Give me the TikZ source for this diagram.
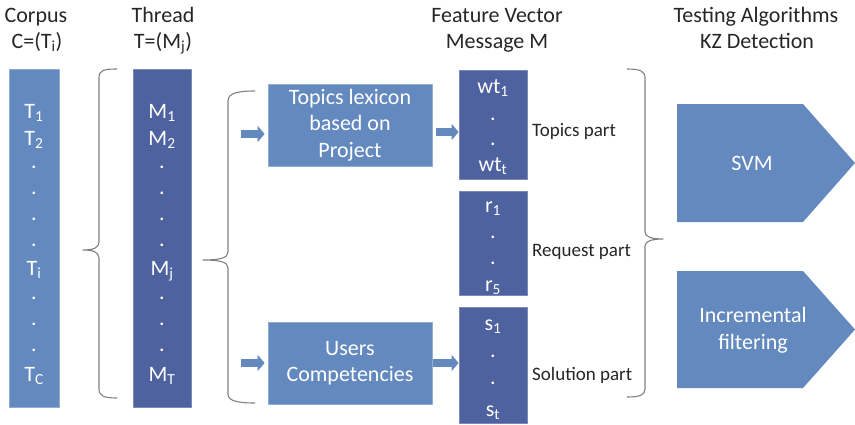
\documentclass[tikz,border=0pt]{standalone}
\usepackage{fontspec}
\setmainfont{Carlito}
\usetikzlibrary{arrows.meta}
\definecolor{boxlight}{RGB}{99,137,191}
\definecolor{boxdark}{RGB}{79,98,160}
\definecolor{bracegray}{RGB}{128,128,128}
\definecolor{inkgray}{RGB}{38,38,38}
\begin{document}
\begin{tikzpicture}[x=1pt, y=-1pt, line join=round,
	bigfont/.style={font=\fontsize{22}{26.5}\selectfont},
	lightbox/.style={fill=boxlight, draw=boxlight!70!white, line width=.8pt, inner sep=0pt},
	darkbox/.style={fill=boxdark, draw=boxdark!75!white, line width=.8pt, inner sep=0pt},
	entry/.style={bigfont, text=white, anchor=base, inner sep=0pt},
	head/.style={bigfont, text=inkgray, anchor=base, inner sep=0pt},
	partlabel/.style={font=\fontsize{19}{22}\selectfont, text=inkgray, anchor=west, inner sep=0pt},
	bracket/.style={draw=bracegray, line width=1.1pt},
	blockarrow/.style={draw=boxlight, line width=8pt, -{Triangle[length=7pt,width=16pt]}}]
	\useasboundingbox (0,0) rectangle (855,424);
	% column headings
	\node[head] (corpusH) at (36,22) {Corpus};
	\node[head] (corpusD) at (37,48) {C=(T\textsubscript{i})};
	\node[head] (threadH) at (163,22) {Thread};
	\node[head] (threadD) at (163,48) {T=(M\textsubscript{j})};
	\node[head] (vectorH) at (497,22) {Feature Vector};
	\node[head] (vectorD) at (497,48) {Message M};
	\node[head] (testH) at (756,22) {Testing Algorithms};
	\node[head] (testD) at (757,48) {KZ Detection};
	% corpus and thread bars
	\node[lightbox, minimum width=50pt, minimum height=338pt] (corpus) at (34,238) {};
	\node[darkbox, minimum width=58pt, minimum height=338pt] (thread) at (162,238) {};
	\foreach \txt/\yy [count=\k] in {T\textsubscript{1}/118, T\textsubscript{2}/145, ./168, ./194, ./220, ./246,
		T\textsubscript{i}/275, ./299, ./325, ./351, T\textsubscript{C}/381}
	\node[entry] (c\k) at (34,\yy) {\txt};
	\foreach \txt/\yy [count=\k] in {M\textsubscript{1}/118, M\textsubscript{2}/145, ./168, ./194, ./220, ./246,
		M\textsubscript{j}/275, ./299, ./325, ./351, M\textsubscript{T}/381}
	\node[entry] (m\k) at (162,\yy) {\txt};
	% lexicon boxes
	\node[lightbox, bigfont, text=white, align=center, minimum width=164pt, minimum height=82pt] (topics) at (350,125) {Topics lexicon\\based on\\Project};
	\node[lightbox, bigfont, text=white, align=center, minimum width=164pt, minimum height=82pt] (users) at (350,363) {Users\\Competencies};
	% feature vector parts
	\node[darkbox, minimum width=68pt, minimum height=109pt] (fvTopics) at (493,124.5) {};
	\node[darkbox, minimum width=68pt, minimum height=104pt] (fvRequest) at (493,243) {};
	\node[darkbox, minimum width=68pt, minimum height=116pt] (fvSolution) at (493,365) {};
	\foreach \txt/\yy [count=\k] in {wt\textsubscript{1}/93, ./120, ./145, wt\textsubscript{t}/171,
		r\textsubscript{1}/212, ./238, ./264, r\textsubscript{5}/291,
		s\textsubscript{1}/330, ./357, ./384, s\textsubscript{t}/416}
	\node[entry] (v\k) at (493,\yy) {\txt};
	\node[partlabel] (topicsPart) at (532,131) {Topics part};
	\node[partlabel] (requestPart) at (532,252) {Request part};
	\node[partlabel] (solutionPart) at (532,375) {Solution part};
	% braces
	\draw[bracket] (117,69) .. controls (104,69) and (99,70) .. (99,78) -- (99,242) .. controls (99,248) and (93,250) .. (83,250)
		.. controls (93,250) and (99,252) .. (99,258) -- (99,389) .. controls (99,396) and (104,398) .. (117,398);
	\draw[bracket] (255,91) .. controls (238,91) and (228,93) .. (228,101) -- (228,252) .. controls (228,258) and (220,260) .. (203,260)
		.. controls (220,260) and (228,262) .. (228,268) -- (228,394) .. controls (228,401) and (238,403) .. (255,403);
	\draw[bracket] (627,69) .. controls (640,69) and (645,71) .. (645,78) -- (645,232) .. controls (645,237) and (652,239) .. (663,239)
		.. controls (652,239) and (645,241) .. (645,246) -- (645,389) .. controls (645,395) and (640,397) .. (627,397);
	% arrows
	\coordinate (inTopics) at (241,134);
	\coordinate (inUsers) at (241,363);
	\draw[blockarrow, shorten >=3pt] (inTopics) -- (inTopics -| topics.west);
	\draw[blockarrow, shorten >=3pt] (inUsers) -- (inUsers -| users.west);
	\draw[blockarrow, shorten <=4pt] (topics.east |- 0,132) -- (fvTopics.west |- 0,132);
	\draw[blockarrow, shorten <=1pt] (users.east) -- (users.east -| fvSolution.west);
	% classifiers
	\fill[boxlight] (677,104) -- (803,104) -- (855,163) -- (803,222) -- (677,222) -- cycle;
	\node[bigfont, text=white] (svm) at (752,163) {SVM};
	\fill[boxlight] (677,271) -- (803,271) -- (855,329.5) -- (803,388) -- (677,388) -- cycle;
	\node[bigfont, text=white, align=center] (incr) at (753,330) {Incremental\\filtering};
\end{tikzpicture}
\end{document}
